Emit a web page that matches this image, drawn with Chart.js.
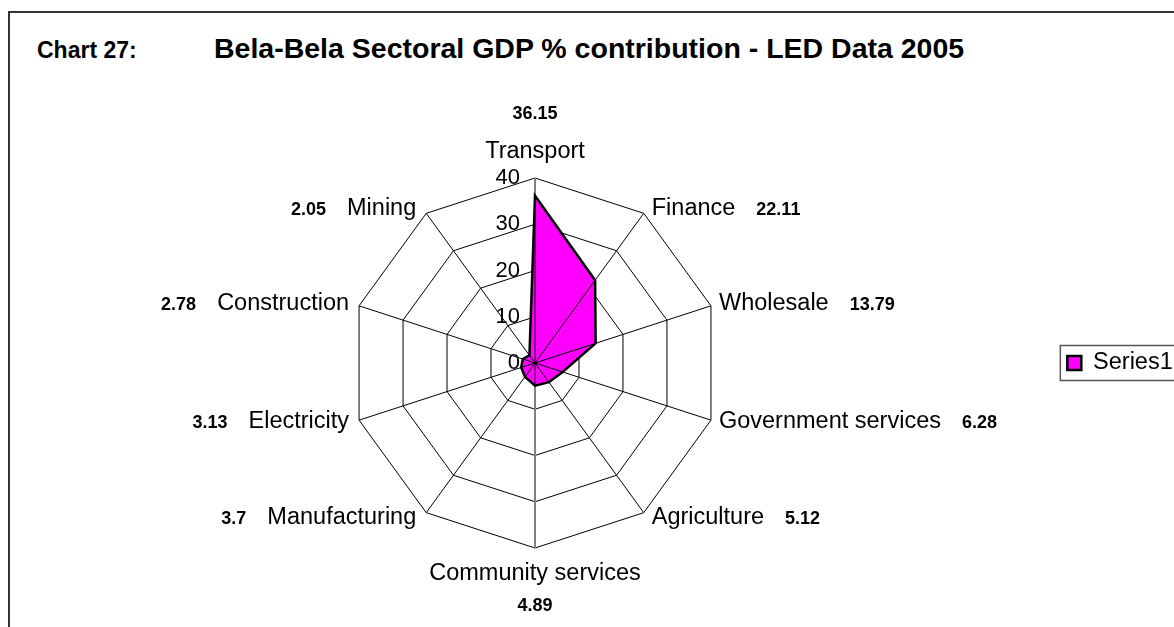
<!DOCTYPE html>
<html>
<head>
<meta charset="utf-8">
<title>Bela-Bela Sectoral GDP % contribution</title>
<script src="https://cdn.jsdelivr.net/npm/chart.js@4.4.0/dist/chart.umd.min.js"></script>
<style>
  body { margin: 0; background: #fff; }
  #wrap { position: relative; width: 1174px; height: 627px; overflow: hidden; font-family: "Liberation Sans", Arial, sans-serif; color: #000; }
  #frame { position: absolute; left: 8px; top: 11px; width: 1200px; height: 700px; border: 2px solid #333; }
  .ttl { position: absolute; font-weight: bold; white-space: nowrap; }
  #num { left: 37px; top: 39px; font-size: 23px; line-height: 23px; }
  #main { left: 214px; top: 34px; font-size: 28.5px; line-height: 28.5px; }
  canvas { position: absolute; left: 0; top: 0; }
</style>
</head>
<body>
<div id="wrap">
  <div id="frame"></div>
  <div class="ttl" id="num">Chart 27:</div>
  <div class="ttl" id="main">Bela-Bela Sectoral GDP % contribution - LED Data 2005</div>
  <canvas id="radar" width="1174" height="627"></canvas>
</div>
<script>
// Data
const sectors = ['Transport', 'Finance', 'Wholesale', 'Government services', 'Agriculture',
                 'Community services', 'Manufacturing', 'Electricity', 'Construction', 'Mining'];
const series1 = [36.15, 22.11, 13.79, 6.28, 5.12, 4.89, 3.7, 3.13, 2.78, 2.05];
const axisMin = 0;
const axisMax = 40;
const axisStep = 10;

const fontFamily = '"Liberation Sans", Arial, sans-serif';

// Labels, tick numbers, wedge lines and the legend frame
const radarExtras = {
    id: 'radarExtras',
    afterDatasetsDraw(chart) {
        const scale = chart.scales.r;
        const ctx = chart.ctx;
        const meta = chart.getDatasetMeta(0);
        ctx.save();
        ctx.strokeStyle = '#000';
        ctx.lineWidth = 1;
        meta.data.forEach(pt => {
            ctx.beginPath();
            ctx.moveTo(scale.xCenter, scale.yCenter);
            ctx.lineTo(pt.x, pt.y);
            ctx.stroke();
        });
        ctx.restore();
    },
    afterDraw(chart) {
        const scale = chart.scales.r;
        const ctx = chart.ctx;
        ctx.save();
        ctx.fillStyle = '#000';

        // value axis numbers, left of the vertical axis
        ctx.font = '22px ' + fontFamily;
        ctx.textAlign = 'right';
        ctx.textBaseline = 'middle';
        scale.ticks.forEach(t => {
            const d = scale.getDistanceFromCenterForValue(t.value);
            ctx.fillText(t.label, scale.xCenter - 15, scale.yCenter - d);
        });

        // category names with their values in bold
        const labelFont = '23.5px ' + fontFamily;
        const valueFont = 'bold 18px ' + fontFamily;
        ctx.textBaseline = 'alphabetic';
        sectors.forEach((name, i) => {
            const p = scale.getPointPosition(i, scale.drawingArea);
            const deg = Math.round(scale.getIndexAngle(i) * 180 / Math.PI);
            const val = String(series1[i]);
            ctx.font = labelFont;
            const w = ctx.measureText(name).width;
            if (deg === 0 || deg === 180) {
                const top = deg === 0;
                ctx.textAlign = 'center';
                ctx.fillText(name, p.x, top ? p.y - 20 : p.y + 32);
                ctx.font = valueFont;
                ctx.fillText(val, p.x, top ? p.y - 59 : p.y + 63);
            } else {
                const y = p.y + 6.25 - 5.9 * Math.cos(deg * Math.PI / 180);
                const right = deg < 180;
                ctx.textAlign = right ? 'left' : 'right';
                const x = right ? p.x + 8 : p.x - 10;
                ctx.fillText(name, x, y);
                ctx.font = valueFont;
                ctx.fillText(val, right ? x + w + 21 : x - w - 21, y);
            }
        });

        // frame round the legend
        const hb = chart.legend.legendHitBoxes[0];
        if (hb) {
            ctx.strokeStyle = '#555';
            ctx.lineWidth = 1.5;
            ctx.strokeRect(hb.left - 7, hb.top + hb.height / 2 - 17.5, 140, 35);
        }
        ctx.restore();
    }
};

const ctx = document.getElementById('radar').getContext('2d');
const radarChart = new Chart(ctx, {
    type: 'radar',
    data: {
        labels: sectors,
        datasets: [{
            label: 'Series1',
            data: series1,
            backgroundColor: '#FF00FF',
            borderColor: '#000',
            borderWidth: 2.5,
            pointRadius: 0,
            fill: true,
            tension: 0
        }]
    },
    options: {
        responsive: false,
        animation: false,
        layout: { padding: { top: 178, bottom: 79, left: 14, right: -8.75 } },
        plugins: {
            legend: {
                position: 'right',
                labels: {
                    boxWidth: 14,
                    boxHeight: 14,
                    padding: 10,
                    color: '#000',
                    font: { family: fontFamily, size: 23.5 }
                }
            },
            tooltip: { enabled: false }
        },
        scales: {
            r: {
                min: axisMin,
                max: axisMax,
                ticks: { stepSize: axisStep, display: false },
                grid: { circular: false, color: '#000', lineWidth: 1 },
                angleLines: {
                    color: c => (c.index === 0 || c.index === 5) ? '#808080' : '#000',
                    lineWidth: c => (c.index === 0 || c.index === 5) ? 2 : 1
                },
                pointLabels: { display: false }
            }
        }
    },
    plugins: [radarExtras]
});
</script>
</body>
</html>
